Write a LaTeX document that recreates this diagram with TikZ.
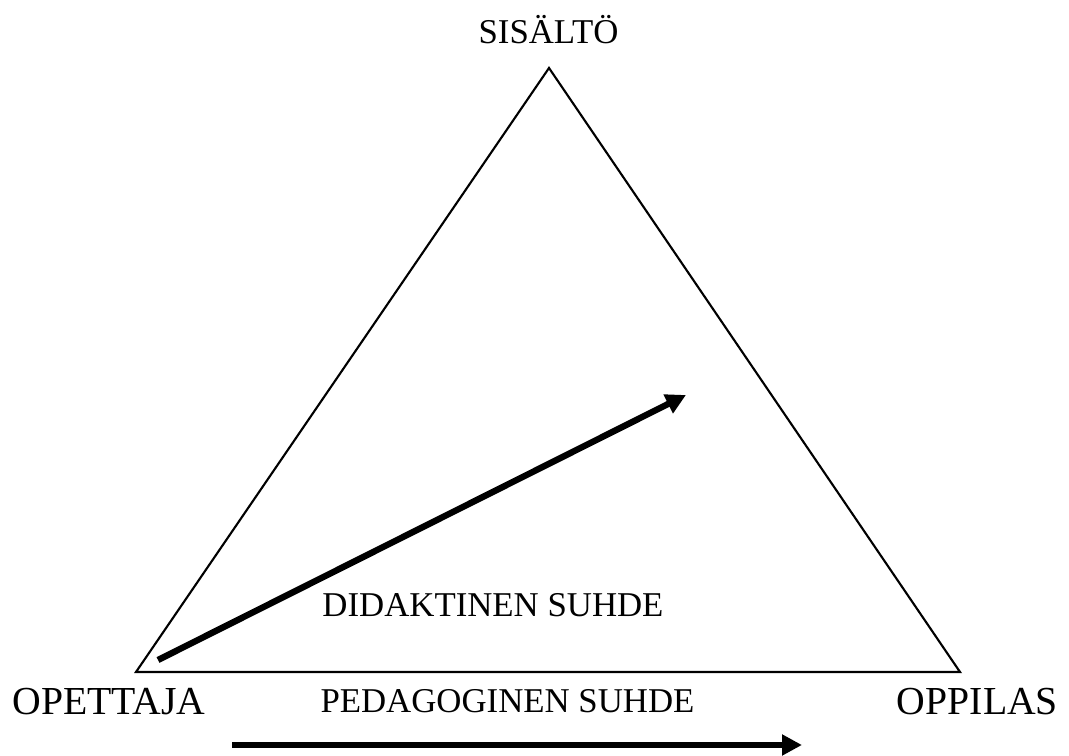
\documentclass[tikz,border=0pt]{standalone}
\usepackage{fontspec}
\setmainfont{Liberation Serif}
\usetikzlibrary{arrows.meta}

\begin{document}
\begin{tikzpicture}[x=0.02cm,y=-0.02cm,
    corner/.style={font=\fontsize{22.6}{26}\selectfont,anchor=base,inner sep=0pt},
    label/.style={font=\fontsize{19.8}{24}\selectfont,anchor=base,inner sep=0pt},
    relation/.style={line width=3.6pt,-{Triangle[length=0.4cm,width=0.4cm]}}]
    \useasboundingbox (0,0) rectangle (1069,756);
    % corners of the triangle
    \coordinate (top) at (549,68);
    \coordinate (left) at (136,672);
    \coordinate (right) at (960,672);
    \draw[line width=1.2pt,line join=miter] (top)--(right)--(left)--cycle;
    \node[label] (content) at (548.5,44) {SISÄLTÖ};
    \node[corner] (teacher) at (109,715) {OPETTAJA};
    \node[corner] (student) at (977.5,715) {OPPILAS};
    % relations
    \coordinate (dstart) at (158,660);
    \coordinate (dend) at (686,395);
    \draw[relation] (dstart)--(dend);
    \node[label] (didactic) at (493,617) {DIDAKTINEN SUHDE};
    \node[label] (pedagogic) at (507.5,713) {PEDAGOGINEN SUHDE};
    \coordinate (pstart) at (232,745);
    \coordinate (pend) at (802,745);
    \draw[relation] (pstart)--(pend);
  \end{tikzpicture}
\end{document}
